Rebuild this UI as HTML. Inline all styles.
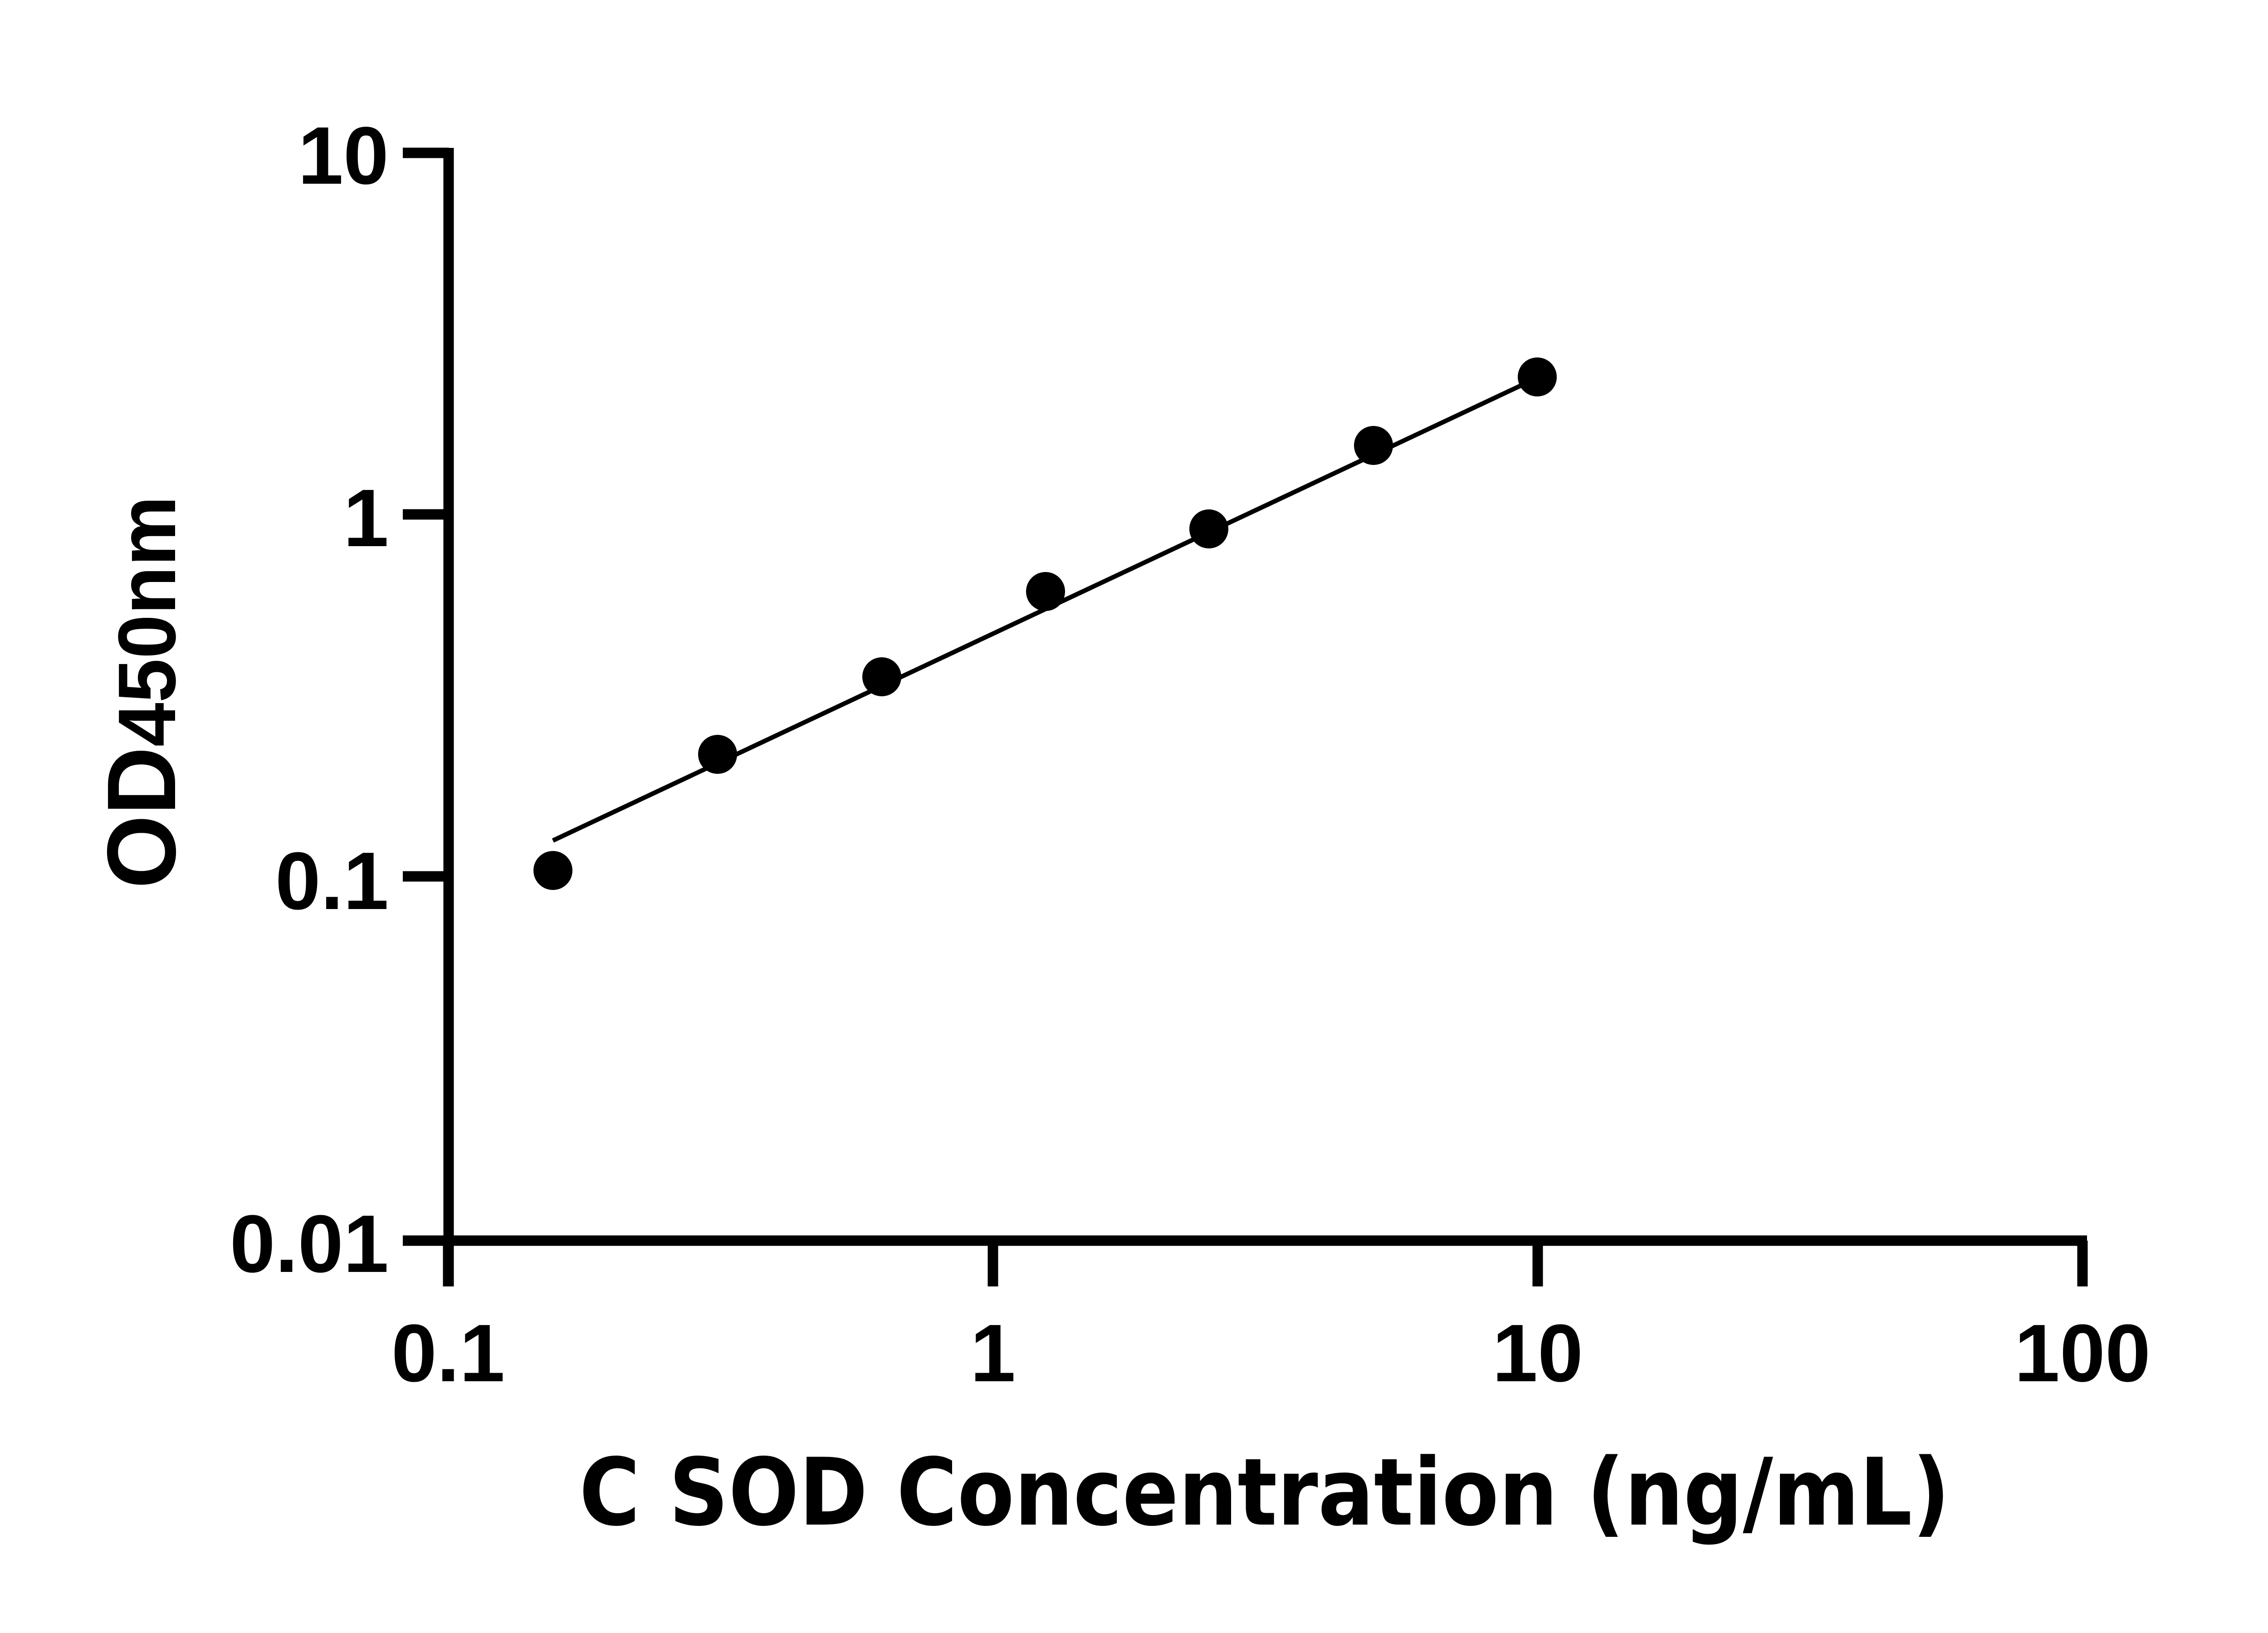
<!DOCTYPE html>
<html><head><style>html,body{margin:0;padding:0;background:#fff;}svg{display:block;}</style></head>
<body>
<svg xmlns="http://www.w3.org/2000/svg" width="5142" height="3600" viewBox="0 0 5142 3600">
<rect width="5142" height="3600" fill="#fff"/>
<g stroke="#000" stroke-width="23" fill="none">
<line x1="989" y1="326" x2="989" y2="2836"/>
<line x1="888" y1="2735" x2="4601" y2="2735"/>
<line x1="888" y1="337" x2="989" y2="337"/>
<line x1="888" y1="1134" x2="989" y2="1134"/>
<line x1="888" y1="1932" x2="989" y2="1932"/>
<line x1="988" y1="2735" x2="988" y2="2836"/>
<line x1="2189" y1="2735" x2="2189" y2="2836"/>
<line x1="3390" y1="2735" x2="3390" y2="2836"/>
<line x1="4591" y1="2735" x2="4591" y2="2836"/>
</g>
<line x1="1219" y1="1853" x2="3389" y2="833" stroke="#000" stroke-width="10"/>
<g fill="#000">
<circle cx="1219" cy="1919" r="43"/>
<circle cx="1582" cy="1663" r="43"/>
<circle cx="1944" cy="1492" r="43"/>
<circle cx="2305" cy="1304" r="43"/>
<circle cx="2665" cy="1166" r="43"/>
<circle cx="3028" cy="982" r="43"/>
<circle cx="3389" cy="831" r="43"/>
</g>
<g font-family="'Liberation Sans', 'DejaVu Sans', sans-serif" font-weight="bold" font-size="180" text-anchor="end" fill="#000">
<text x="857" y="405">10</text>
<text x="857" y="1204">1</text>
<text x="857" y="2004">0.1</text>
<text x="857" y="2804">0.01</text>
</g>
<g font-family="'Liberation Sans', 'DejaVu Sans', sans-serif" font-weight="bold" font-size="180" text-anchor="middle" fill="#000">
<text x="988" y="3045">0.1</text>
<text x="2189" y="3045">1</text>
<text x="3390" y="3045">10</text>
<text x="4591" y="3045">100</text>
</g>
<text x="2788" y="3361" font-family="'DejaVu Sans', 'Liberation Sans', sans-serif" font-weight="bold" font-size="205" text-anchor="middle" textLength="3022" lengthAdjust="spacingAndGlyphs">C SOD Concentration (ng/mL)</text>
<text transform="translate(386,1526) rotate(-90)" font-family="'Liberation Sans', sans-serif" font-weight="bold" font-size="215" text-anchor="middle" textLength="866" lengthAdjust="spacingAndGlyphs">OD<tspan font-size="180">450nm</tspan></text>
</svg>
</body></html>
